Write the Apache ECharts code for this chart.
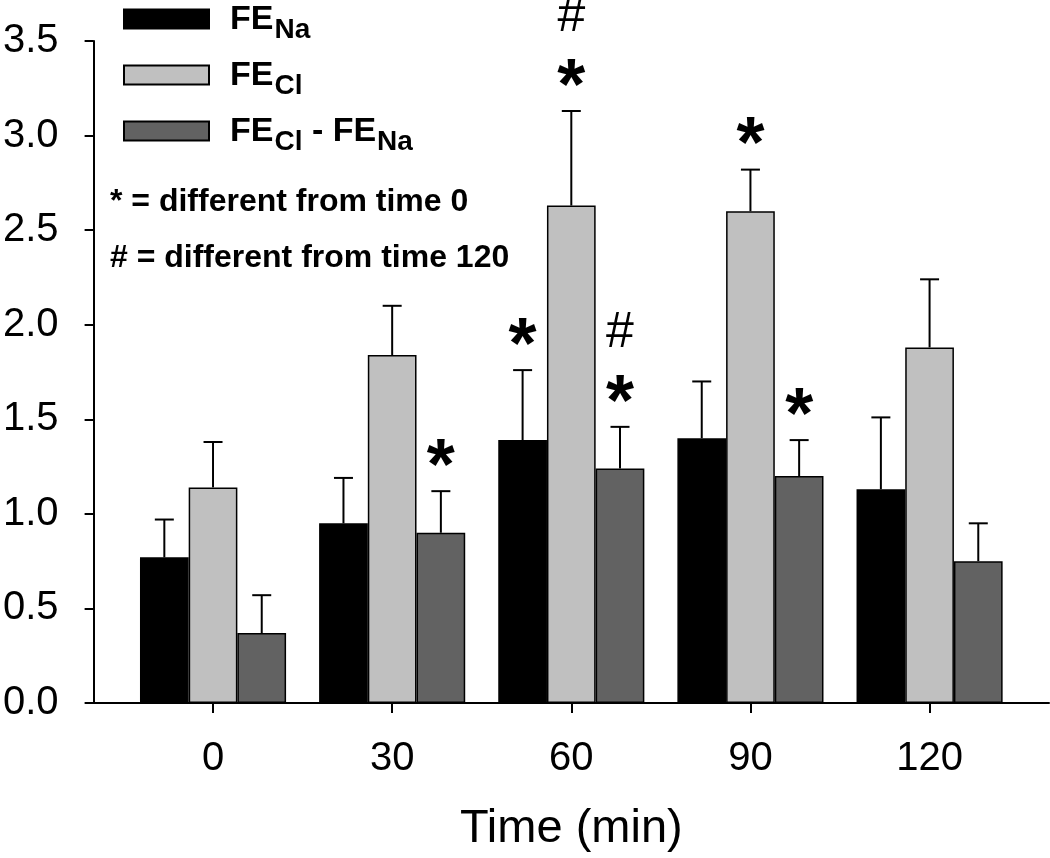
<!DOCTYPE html>
<html>
<head>
<meta charset="utf-8">
<script src="https://cdn.jsdelivr.net/npm/echarts@6/dist/echarts.min.js"></script>
<style>
  html, body { margin: 0; padding: 0; background: #fff; }
  #chart { width: 1050px; height: 858px; }
</style>
</head>
<body>
<div id="chart"></div>
<script>
// ---- data ----
const timePoints = [0, 30, 60, 90, 120];
const seriesNames = ['FE_Na', 'FE_Cl', 'FE_Cl - FE_Na'];
const feNa = [0.77, 0.95, 1.39, 1.40, 1.13];
const feNaSem = [0.20, 0.24, 0.37, 0.30, 0.38];
const feCl = [1.14, 1.84, 2.63, 2.60, 1.88];
const feClSem = [0.24, 0.26, 0.50, 0.22, 0.36];
const feDiff = [0.37, 0.90, 1.24, 1.20, 0.75];
const feDiffSem = [0.20, 0.22, 0.22, 0.19, 0.20];
// significance marks: [time, series index]
const starMarks = [[30, 2], [60, 0], [60, 1], [60, 2], [90, 1], [90, 2]];
const hashMarks = [[60, 1], [60, 2]];
const noteLines = ['* = different from time 0', '# = different from time 120'];
const yTicks = [0, 0.5, 1.0, 1.5, 2.0, 2.5, 3.0, 3.5];

// ---- styling ----
const colors = ['#000000', '#c0c0c0', '#626262'];
const BAR_W = 48.7;
const means = [feNa, feCl, feDiff];
const sems = [feNaSem, feClSem, feDiffSem];

const chart = echarts.init(document.getElementById('chart'), null, { renderer: 'canvas' });

const barSeries = seriesNames.map((name, i) => ({
  name: name,
  type: 'bar',
  barWidth: BAR_W,
  barGap: '0%',
  data: timePoints.map((t, k) => [t, means[i][k]]),
  itemStyle: { color: colors[i], borderColor: '#000', borderWidth: 1.5 },
  emphasis: { disabled: true },
  z: 2
}));

const errData = [];
seriesNames.forEach((n, i) => {
  timePoints.forEach((t, k) => errData.push([t, means[i][k], sems[i][k], i]));
});

const errSeries = {
  type: 'custom',
  coordinateSystem: 'cartesian2d',
  data: errData,
  z: 3,
  silent: true,
  renderItem(params, api) {
    const x = api.value(0), m = api.value(1), e = api.value(2), s = api.value(3);
    const p0 = api.coord([x, m]);
    const p1 = api.coord([x, m + e]);
    const cx = p0[0] + (s - 1) * BAR_W;
    return {
      type: 'group',
      children: [
        { type: 'line', shape: { x1: cx, y1: p0[1], x2: cx, y2: p1[1] }, style: { stroke: '#000', lineWidth: 2 } },
        { type: 'line', shape: { x1: cx - 9.5, y1: p1[1], x2: cx + 9.5, y2: p1[1] }, style: { stroke: '#000', lineWidth: 2 } }
      ]
    };
  }
};

function markSeries(marks, txt, font, gap) {
  return {
    type: 'custom',
    coordinateSystem: 'cartesian2d',
    silent: true,
    z: 4,
    data: marks.map(([t, s]) => {
      const k = timePoints.indexOf(t);
      return [t, means[s][k] + sems[s][k], s];
    }),
    renderItem(params, api) {
      const x = api.value(0), v = api.value(1), s = api.value(2);
      const p = api.coord([x, v]);
      return {
        type: 'text',
        x: p[0] + (s - 1) * BAR_W,
        y: p[1] - gap,
        style: { text: txt, font: font, fill: '#000', align: 'center', verticalAlign: 'middle' }
      };
    }
  };
}

const option = {
  animation: false,
  backgroundColor: '#ffffff',
  grid: { left: 89, right: 1, top: 41, bottom: 155, containLabel: false },
  legend: {
    orient: 'vertical',
    left: 123,
    top: 3,
    padding: 0,
    itemWidth: 85,
    itemHeight: 19,
    itemGap: 15,
    icon: 'rect',
    selectedMode: false,
    data: seriesNames,
    formatter(name) {
      const parts = name.split(' - ').map(p => p.split('_'));
      let out = '{f|' + parts[0][0] + '}{s|' + parts[0][1] + '}';
      if (parts.length > 1) out += '{m| - ' + parts[1][0] + '}{s|' + parts[1][1] + '}';
      return out;
    },
    textStyle: {
      color: '#000',
      rich: {
        f: { fontFamily: 'Liberation Sans', fontWeight: 'bold', fontSize: 34, lineHeight: 32, verticalAlign: 'top', padding: [0, 0, 0, 16], color: '#000' },
        m: { fontFamily: 'Liberation Sans', fontWeight: 'bold', fontSize: 34, lineHeight: 32, verticalAlign: 'top', color: '#000' },
        s: { fontFamily: 'Liberation Sans', fontWeight: 'bold', fontSize: 28, lineHeight: 26, verticalAlign: 'top', padding: [13, 0, 0, 1], color: '#000' }
      }
    }
  },
  xAxis: {
    type: 'value',
    min: -20,
    max: 140,
    name: 'Time (min)',
    nameLocation: 'middle',
    nameGap: 103,
    nameTextStyle: { fontFamily: 'Liberation Sans', fontSize: 47, lineHeight: 47, color: '#000' },
    splitLine: { show: false },
    axisLine: { show: true, onZero: false, lineStyle: { color: '#000', width: 2 } },
    axisTick: { show: true, length: 10, lineStyle: { color: '#000', width: 2 }, customValues: timePoints },
    axisLabel: {
      customValues: timePoints,
      margin: 36,
      fontFamily: 'Liberation Sans', fontSize: 40, lineHeight: 40, color: '#000',
      formatter: v => String(v)
    }
  },
  yAxis: {
    type: 'value',
    min: 0,
    max: 3.5,
    interval: 0.5,
    splitLine: { show: false },
    axisLine: { show: true, onZero: false, lineStyle: { color: '#000', width: 2 } },
    axisTick: { show: true, length: 9, lineStyle: { color: '#000', width: 2 }, customValues: yTicks },
    axisLabel: {
      customValues: yTicks,
      margin: 35,
      fontFamily: 'Liberation Sans', fontSize: 40, color: '#000',
      formatter: v => Number(v).toFixed(1)
    }
  },
  graphic: noteLines.map((t, i) => ({
    type: 'text',
    left: 110,
    top: 186 + i * 56,
    style: { text: t, font: 'bold 32px "Liberation Sans"', fill: '#000' }
  })),
  series: [
    ...barSeries,
    errSeries,
    markSeries(starMarks, '*', 'bold 72px "Liberation Sans"', 22),
    markSeries(hashMarks, '#', 'normal 50px "Liberation Sans"', 94)
  ]
};

chart.setOption(option);
</script>
</body>
</html>
